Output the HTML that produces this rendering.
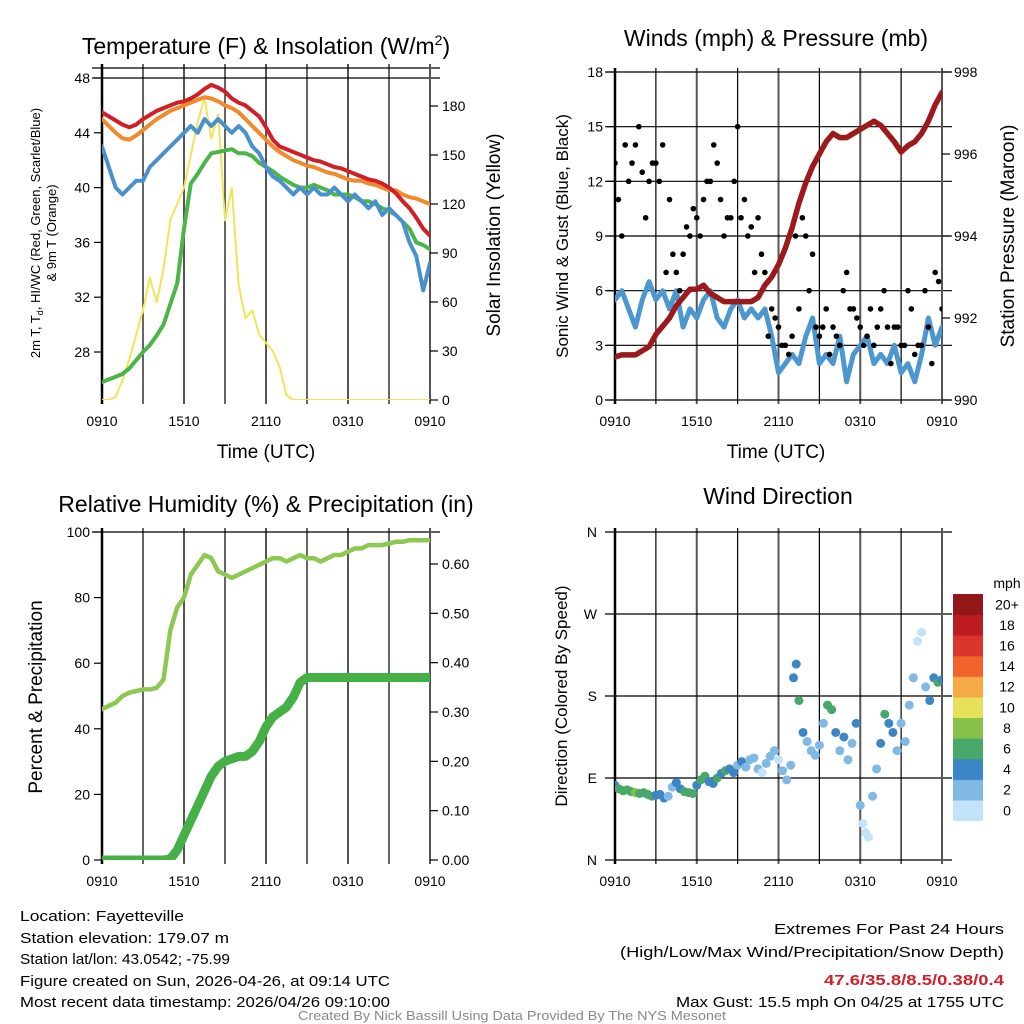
<!DOCTYPE html>
<html><head><meta charset="utf-8"><style>
body{margin:0;background:#fff}
svg{display:block;font-family:"Liberation Sans",sans-serif}
</style></head><body>
<svg id="c" width="1024" height="1024" viewBox="0 0 1024 1024" xmlns="http://www.w3.org/2000/svg">
<defs>
<clipPath id="cp1"><rect x="102" y="68" width="328" height="332"/></clipPath>
<clipPath id="cp2"><rect x="615" y="72" width="327" height="328"/></clipPath>
<clipPath id="cp3"><rect x="102" y="532" width="328" height="328"/></clipPath>
<clipPath id="cp4"><rect x="615" y="532" width="327" height="328"/></clipPath>
</defs>
<g id="g1"></g>
<g id="g2"></g>
<g id="g3"></g>
<g id="g4"></g>
<g font-size="15" fill="#000">
<text x="20" y="921" textLength="164" lengthAdjust="spacingAndGlyphs">Location: Fayetteville</text>
<text x="20" y="943" textLength="209" lengthAdjust="spacingAndGlyphs">Station elevation: 179.07 m</text>
<text x="20" y="964" textLength="210" lengthAdjust="spacingAndGlyphs">Station lat/lon: 43.0542; -75.99</text>
<text x="20" y="986" textLength="370" lengthAdjust="spacingAndGlyphs">Figure created on Sun, 2026-04-26, at 09:14 UTC</text>
<text x="20" y="1007" textLength="370" lengthAdjust="spacingAndGlyphs">Most recent data timestamp: 2026/04/26 09:10:00</text>
<text x="1004" y="934" text-anchor="end" textLength="230" lengthAdjust="spacingAndGlyphs">Extremes For Past 24 Hours</text>
<text x="1004" y="957" text-anchor="end" textLength="384" lengthAdjust="spacingAndGlyphs">(High/Low/Max Wind/Precipitation/Snow Depth)</text>
<text x="1004" y="985" text-anchor="end" fill="#d0202a" font-weight="bold" textLength="180" lengthAdjust="spacingAndGlyphs">47.6/35.8/8.5/0.38/0.4</text>
<text x="1004" y="1007" text-anchor="end" textLength="328" lengthAdjust="spacingAndGlyphs">Max Gust: 15.5 mph On 04/25 at 1755 UTC</text>
<text x="512" y="1020" text-anchor="middle" fill="#888" font-size="13" textLength="428" lengthAdjust="spacingAndGlyphs">Created By Nick Bassill Using Data Provided By The NYS Mesonet</text>
</g>
</svg>
<script>
const timeTicks = ["0910","1510","2110","0310","0910"];
const tempRed = [45.5,45.2,44.9,44.6,44.4,44.6,45,45.3,45.6,45.8,46,46.2,46.3,46.5,46.8,47.2,47.5,47.3,47,46.5,46.2,46,45.6,45.2,44.4,43.5,43,42.8,42.6,42.4,42.2,42,41.9,41.7,41.5,41.4,41.2,41,40.8,40.6,40.5,40.3,40,39.6,39,38.5,37.8,37,36.5];
const tempOrange = [45,44.5,44,43.6,43.5,43.8,44.2,44.6,45,45.3,45.6,45.8,46,46.2,46.4,46.6,46.5,46.3,46,45.8,45.5,45,44.5,44,43.5,43,42.6,42.3,42,41.8,41.6,41.5,41.3,41.1,41,40.8,40.6,40.5,40.5,40.3,40.2,40,39.8,39.8,39.5,39.3,39.2,39,38.8];
const tempBlue = [43,41.5,40,39.5,40,40.5,40.5,41.5,42,42.5,43,43.5,44,44.5,44,45,44.5,45,44.5,44,44.5,44,43,42.5,41.5,40.8,40.5,40,39.5,40,39.5,40,39.5,39.5,40,39.5,39,39.5,39,38.5,39,38,38.5,38,37.5,36,35,32.5,34.5];
const tempGreen = [25.8,26,26.2,26.4,26.8,27.4,28,28.5,29.2,30,31.5,33,37,40.3,41,41.8,42.5,42.6,42.7,42.8,42.5,42.5,42.3,41.8,41.5,41.2,40.8,40.5,40.2,40,40,40.2,40,39.8,39.5,39.5,39.5,39.3,39,39,38.8,38.5,38.3,38,37.5,37,36,35.8,35.5];
const insolation = [0,0,2,12,25,40,55,75,60,80,110,120,130,150,170,185,160,175,110,130,70,50,55,40,35,30,20,3,0,0,0,0,0,0,0,0,0,0,0,0,0,0,0,0,0,0,0,0,0];
const windSpeed = [5.5,6,5,4,5.5,6.5,5.5,6,5,6,4,5,4.5,5.5,6,4.5,4,5,5.5,4.5,5,4.5,5,3.5,1.5,2,2.5,2,3.5,4.5,2,2.5,2,3.5,1,2.5,3,3.5,2,2.5,2,3,1.5,2,1,2.5,4.5,3,4];
const gustA = [13,9,12,14,12.5,12,13,14,11,7,8,9,10,11,12,13,9,10,15,11,9.5,10,7,5,4,3,3.5,5,9,8,3.5,5,4,3,7,5,4,3.5,3,5,4,4,3,6,2.5,3,4,7,5];
const gustB = [11,14,13,15,10,13,12,7,8,6,9.5,10.5,9,12,14,11,10,12,10,9,7,8,3.5,4.5,3,2.5,9,10,6,4,4,2.5,3.5,6,5,4.5,3,5,4,6,2,4,3,5,3,6,2,6.5];
const pressure = [991.05,991.1,991.1,991.1,991.2,991.3,991.6,991.8,992,992.3,992.5,992.7,992.7,992.8,992.6,992.5,992.4,992.4,992.4,992.4,992.4,992.5,992.8,993,993.3,993.7,994.2,994.8,995.3,995.7,996,996.3,996.5,996.4,996.4,996.5,996.6,996.7,996.8,996.7,996.5,996.3,996.05,996.2,996.3,996.5,996.8,997.2,997.5];
const humidity = [46,47,48,50,51,51.5,52,52,52.5,55,70,77,80,87,90,93,92,88,87,86,87,88,89,90,91,92,92,91,92,93,92,92,91,92,93,93,94,95,95,96,96,96,96.5,97,97,97.5,97.5,97.5,97.5];
const precip = [0,0,0,0,0,0,0,0,0,0,0.002,0.02,0.05,0.08,0.11,0.14,0.17,0.19,0.2,0.205,0.21,0.21,0.22,0.24,0.27,0.29,0.3,0.31,0.33,0.36,0.37,0.37,0.37,0.37,0.37,0.37,0.37,0.37,0.37,0.37,0.37,0.37,0.37,0.37,0.37,0.37,0.37,0.37,0.37];
const dirTimes = [0,0.3,0.6,0.9,1.2,1.5,1.8,2.1,2.4,2.7,3,3.3,3.6,3.9,4.2,4.5,4.8,5.1,5.4,5.7,6,6.3,6.6,6.9,7.2,7.5,7.8,8.1,8.4,8.7,9,9.3,9.6,9.9,10.2,10.5,10.8,11.1,11.4,11.7,12,12.3,12.6,12.9,13.1,13.3,13.5,13.8,14.1,14.4,14.7,15,15.3,15.6,15.9,16.2,16.5,16.8,17.1,17.4,17.7,18,18.2,18.4,18.6,18.9,19.2,19.5,19.8,20.1,20.4,20.7,21,21.3,21.6,21.9,22.2,22.5,22.8,23.1,23.4,23.7,24];
const dirDegrees = [82,78,76,77,75,74,73,74,72,70,71,72,68,70,80,85,78,75,74,73,82,88,92,86,84,90,95,98,100,96,104,108,102,110,112,100,96,106,114,120,110,98,88,104,200,215,175,140,130,120,115,126,150,170,165,140,120,135,110,128,150,60,40,30,25,70,100,128,160,150,140,120,150,130,170,200,240,250,190,175,200,195,198];
const dirSpeeds = [4,6,6,6,7,8,6,7,6,7,4,4,4,3,3,4,4,6,6,6,4,6,6,4,4,6,5,6,4,4,3,4,2,2,2,3,1,2,2,2,1,2,3,2,4,4,6,4,2,2,2,2,3,6,6,4,2,4,2,3,5,2,1,1,1,2,2,4,6,4,4,2,2,2,2,3,1,1,2,4,4,6,4];
const speedLevels = ["0","2","4","6","8","10","12","14","16","18","20+"];
const speedColors = ["#c3e4f8","#7fb9e4","#3d86c5","#47a86a","#86c24b","#e6e05a","#f6aa45","#f0642c","#dc362c","#bd1c25","#931719"];

const NS="http://www.w3.org/2000/svg";
function mk(parent,tag,attrs,txt){const e=document.createElementNS(NS,tag);for(const k in attrs)e.setAttribute(k,attrs[k]);if(txt!==undefined)e.textContent=txt;parent.appendChild(e);return e;}
function lin(d0,d1,r0,r1){return v=>r0+(v-d0)/(d1-d0)*(r1-r0);}

function frame(g,x0,x1,y0,y1,hGrid,tickX){
  for(let h=0;h<=24;h+=3){const x=tickX(h);
    const l=mk(g,'line',{x1:x,x2:x,y1:y0-4,y2:y1+4,stroke:h%6==0?'#555':'#000','stroke-width':h%6==0?2:1.2});
    
    }
  hGrid.forEach(y=>{const l=mk(g,'line',{x1:x0-10,x2:x1+10,y1:y,y2:y,stroke:'#000','stroke-width':1.2});
    
    });
  mk(g,'line',{x1:x0,x2:x0,y1:y0-4,y2:y1+4,stroke:'#000','stroke-width':2.5});
  timeTicks.forEach((s,i)=>{const t=mk(g,'text',{x:tickX(i*6),y:y1+26,'text-anchor':'middle','font-size':14},s);
    
    });
}
function path(g,vals,xs,ys,color,w,clip,name){
  const d=vals.map((v,i)=>(i?'L':'M')+xs(i*0.5).toFixed(1)+','+ys(v).toFixed(1)).join('');
  const p=mk(g,'path',{d:d,fill:'none',stroke:color,'stroke-width':w,'stroke-linejoin':'round','stroke-linecap':'round','clip-path':'url(#'+clip+')'});
  
  
}
function yTicks(g,vals,ys,x,anchor,fmt,name){
  vals.forEach(v=>{const y=ys(v);
    mk(g,'line',{x1:x,x2:anchor=='end'?x-8:x+8,y1:y,y2:y,stroke:'#000','stroke-width':1.2});
    const t=mk(g,'text',{x:anchor=='end'?x-12:x+12,y:y+5,'text-anchor':anchor,'font-size':14},fmt(v));
    
    });
}
function title(g,x,y,txt,size,rot,name){
  const t=mk(g,'text',{x:x,y:y,'text-anchor':'middle','font-size':size,transform:rot?`rotate(-90 ${x} ${y})`:''},txt);
  
  return t;
}

{const g=document.getElementById('g1');
 const xs=lin(0,24,102,430), yL=lin(28,48,352,78), yR=lin(0,180,400,106);
 frame(g,102,430,68,400,[68,78],xs);
 mk(g,'line',{x1:430,x2:430,y1:64,y2:404,stroke:'#555','stroke-width':2});
 path(g,insolation,xs,yR,'#f2e35a',2,'cp1','insolation-line');
 path(g,tempOrange,xs,yL,'#f08a2c',4,'cp1','temp-9m-line');
 path(g,tempRed,xs,yL,'#d01f26',4,'cp1','temp-2m-line');
 path(g,tempGreen,xs,yL,'#4cb547',4,'cp1','dewpoint-line');
 path(g,tempBlue,xs,yL,'#4a90cc',4,'cp1','heat-index-line');
 yTicks(g,[28,32,36,40,44,48],yL,102,'end',v=>v,'y-left-tick');
 yTicks(g,[0,30,60,90,120,150,180],yR,430,'start',v=>v,'y-right-tick');
 const tt=title(g,266,54,'Temperature (F) & Insolation (W/m',23,false,'panel-title');
 mk(tt,'tspan',{dy:-9,'font-size':14},'2');mk(tt,'tspan',{dy:9},')');
 title(g,266,458,'Time (UTC)',19,false,'x-axis-title');
 const lt=title(g,40,233,'2m T, T',13,true,'y-left-title');
 mk(lt,'tspan',{dy:3,'font-size':9},'d');mk(lt,'tspan',{dy:-3},', HI/WC (Red, Green, Scarlet/Blue)');
 title(g,56,233,'& 9m T (Orange)',13,true,'y-left-title-2');
 title(g,500,235,'Solar Insolation (Yellow)',19,true,'y-right-title');
}
{const g=document.getElementById('g2');
 const xs=lin(0,24,615,942), yL=lin(0,18,400,72), yR=lin(990,998,400,72);
 frame(g,615,942,72,400,[0,3,6,9,12,15,18].map(yL),xs);
 mk(g,'line',{x1:942,x2:942,y1:68,y2:404,stroke:'#555','stroke-width':2});
 path(g,windSpeed,xs,yL,'#4d97d1',5,'cp2','wind-speed-line');
 [[gustA,0],[gustB,0.25]].forEach(([arr,off])=>arr.forEach((v,i)=>{
   const c=mk(g,'circle',{cx:xs(i*0.5+off),cy:yL(v),r:2.8,fill:'#000','clip-path':'url(#cp2)'});
   
   }));
 path(g,pressure,xs,yR,'#9c1a1c',5.5,'cp2','pressure-line');
 yTicks(g,[0,3,6,9,12,15,18],yL,615,'end',v=>v,'y-left-tick');
 yTicks(g,[990,992,994,996,998],yR,942,'start',v=>v,'y-right-tick');
 title(g,776,46,'Winds (mph) & Pressure (mb)',23,false,'panel-title');
 title(g,776,458,'Time (UTC)',19,false,'x-axis-title');
 title(g,568,236,'Sonic Wind & Gust (Blue, Black)',17,true,'y-left-title');
 title(g,1014,236,'Station Pressure (Maroon)',19,true,'y-right-title');
}
{const g=document.getElementById('g3');
 const xs=lin(0,24,102,430), yL=lin(0,100,860,532), yR=lin(0,0.6,860,564);
 frame(g,102,430,532,860,[532],xs);
 mk(g,'line',{x1:430,x2:430,y1:528,y2:864,stroke:'#555','stroke-width':2});
 path(g,precip,xs,yR,'#45b045',9,'cp3','precip-line');
 path(g,humidity,xs,yL,'#8dc852',4.5,'cp3','humidity-line');
 yTicks(g,[0,20,40,60,80,100],yL,102,'end',v=>v,'y-left-tick');
 yTicks(g,[0,0.1,0.2,0.3,0.4,0.5,0.6],yR,430,'start',v=>v.toFixed(2),'y-right-tick');
 title(g,266,512,'Relative Humidity (%) & Precipitation (in)',23,false,'panel-title');
 title(g,42,697,'Percent & Precipitation',19,true,'y-left-title');
}
{const g=document.getElementById('g4');
 const xs=lin(0,24,615,942), yd=lin(0,360,860,532);
 frame(g,615,942,532,860,[0,90,180,270,360].map(yd),xs);
 mk(g,'line',{x1:942,x2:942,y1:528,y2:864,stroke:'#555','stroke-width':2});
 ['N','E','S','W','N'].forEach((s,i)=>{const t=mk(g,'text',{x:597,y:yd(i*90)+5,'text-anchor':'end','font-size':14},s);
   
   });
 dirTimes.forEach((t,i)=>{const lvl=Math.min(10,Math.floor(dirSpeeds[i]/2));
   const c=mk(g,'circle',{cx:xs(t),cy:yd(dirDegrees[i]),r:4.5,fill:speedColors[lvl],'clip-path':'url(#cp4)'});
   
   });
 title(g,778,504,'Wind Direction',23,false,'panel-title');
 title(g,567,696,'Direction (Colored By Speed)',17,true,'y-left-title');
 const cb=mk(g,'g',{});
 
 
 const top=594,h=20.6;
 speedLevels.forEach((s,i)=>{const y=top+(10-i)*h;
   mk(cb,'rect',{x:953,y:y,width:30,height:h+0.5,fill:speedColors[i]});
   mk(cb,'text',{x:1007,y:y+h/2+5,'text-anchor':'middle','font-size':14},s);});
 mk(cb,'text',{x:1007,y:588,'text-anchor':'middle','font-size':14},'mph');
}
</script>
</body></html>
